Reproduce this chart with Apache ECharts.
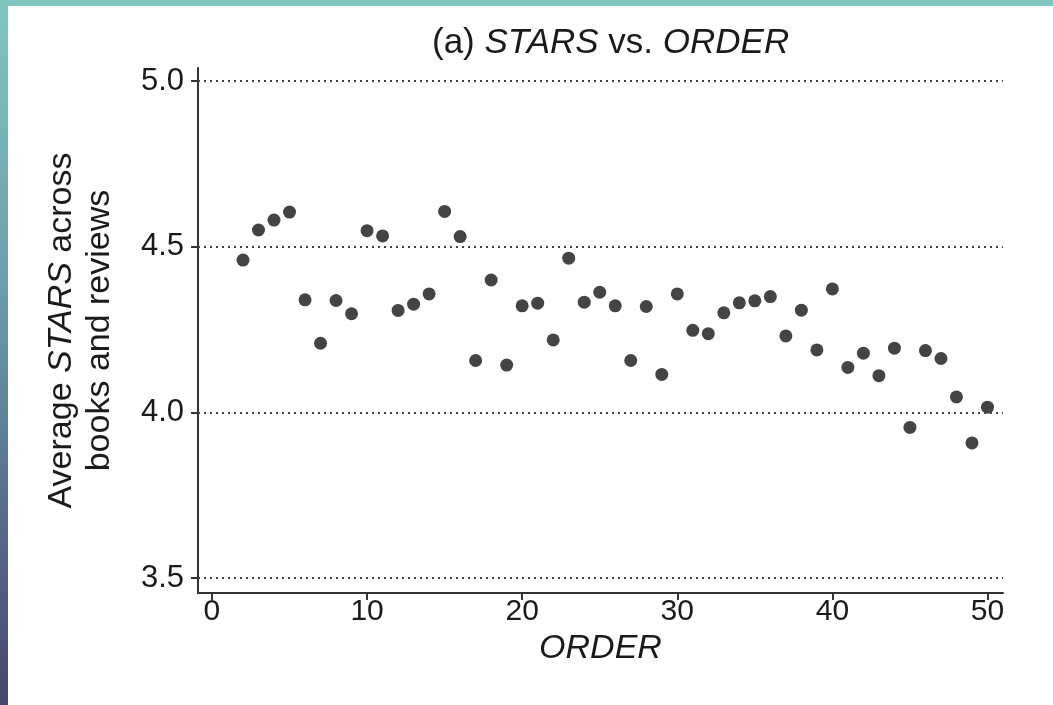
<!DOCTYPE html>
<html>
<head>
<meta charset="utf-8">
<script src="https://cdn.jsdelivr.net/npm/echarts@6/dist/echarts.min.js"></script>
<style>
  html, body { margin: 0; padding: 0; width: 1053px; height: 705px; overflow: hidden; background: #ffffff; }
  #topband { position: absolute; left: 0; top: 0; width: 1053px; height: 6px; background: #80c6c0; }
  #leftband { position: absolute; left: 0; top: 0; width: 8px; height: 705px; background: linear-gradient(to bottom, #80c6c0 0%, #6b9fab 40%, #56698a 75%, #474670 100%); }
  #chart { position: absolute; left: 0; top: 0; width: 1053px; height: 705px; }
</style>
</head>
<body>
<div id="chart"></div>
<div id="topband"></div>
<div id="leftband"></div>
<script>
// ORDER values (x) and average STARS (y)
const orders = [2, 3, 4, 5, 6, 7, 8, 9, 10, 11, 12, 13, 14, 15, 16, 17, 18, 19, 20, 21, 22, 23, 24, 25, 26,
                27, 28, 29, 30, 31, 32, 33, 34, 35, 36, 37, 38, 39, 40, 41, 42, 43, 44, 45, 46, 47, 48, 49, 50];
const stars = [4.46, 4.551, 4.581, 4.605, 4.34, 4.209, 4.338, 4.298, 4.549, 4.533, 4.308, 4.327, 4.358, 4.607, 4.531,
               4.157, 4.40, 4.143, 4.322, 4.330, 4.219, 4.466, 4.333, 4.363, 4.322, 4.157, 4.320, 4.115, 4.358, 4.248,
               4.238, 4.301, 4.331, 4.337, 4.350, 4.231, 4.309, 4.189, 4.373, 4.136, 4.179, 4.111, 4.194, 3.955, 4.187,
               4.163, 4.047, 3.908, 4.016];
const xTicks = [0, 10, 20, 30, 40, 50];
const yTicks = [3.5, 4.0, 4.5, 5.0];

const points = orders.map((o, i) => [o, stars[i]]);
const font = 'Liberation Sans, Arial, Helvetica, sans-serif';

const chart = echarts.init(document.getElementById('chart'), null, { renderer: 'canvas' });
chart.setOption({
  backgroundColor: '#ffffff',
  animation: false,
  title: {
    text: '{n|(a) }{i|STARS}{n| vs. }{i|ORDER}',
    left: 427,
    top: 21,
    textStyle: {
      fontWeight: 'normal',
      rich: {
        n: { fontFamily: font, fontSize: 35, fontWeight: 'normal', color: '#1a1a1a' },
        i: { fontFamily: font, fontSize: 35, fontWeight: 'normal', fontStyle: 'italic', color: '#1a1a1a' }
      }
    }
  },
  grid: { left: 198, right: 50, top: 68, bottom: 112, containLabel: false },
  xAxis: {
    type: 'value',
    min: -0.9,
    max: 51,
    name: 'ORDER',
    nameLocation: 'middle',
    nameGap: 39,
    nameTextStyle: { fontFamily: font, fontSize: 34, fontStyle: 'italic', color: '#1a1a1a' },
    axisLine: { show: true, onZero: false, lineStyle: { color: '#333', width: 2 } },
    axisTick: { show: true, customValues: xTicks, length: 7, lineStyle: { color: '#333', width: 2 } },
    axisLabel: { customValues: xTicks, fontFamily: font, fontSize: 30, color: '#1a1a1a', margin: 4 },
    splitLine: { show: false }
  },
  yAxis: {
    type: 'value',
    min: 3.455,
    max: 5.04,
    name: '{n|Average }{i|STARS}{n| across}\n{n|books and reviews}',
    nameLocation: 'middle',
    nameRotate: 90,
    nameGap: 79,
    nameTextStyle: {
      lineHeight: 38,
      rich: {
        n: { fontFamily: font, fontSize: 34, color: '#1a1a1a', lineHeight: 38 },
        i: { fontFamily: font, fontSize: 34, fontStyle: 'italic', color: '#1a1a1a', lineHeight: 38 }
      }
    },
    axisLine: { show: true, onZero: false, lineStyle: { color: '#333', width: 2 } },
    axisTick: { show: true, customValues: yTicks, length: 7, lineStyle: { color: '#333', width: 2 } },
    axisLabel: {
      customValues: yTicks,
      formatter: v => v.toFixed(1),
      fontFamily: font, fontSize: 31, color: '#1a1a1a', margin: 14
    },
    splitLine: { show: false }
  },
  series: [{
    type: 'scatter',
    data: points,
    symbol: 'circle',
    symbolSize: 13,
    itemStyle: { color: '#444444', opacity: 1 },
    markLine: {
      silent: true,
      symbol: ['none', 'none'],
      label: { show: false },
      lineStyle: { color: '#444', width: 2, type: [2, 4] },
      data: yTicks.map(v => ({ yAxis: v }))
    },
    z: 3
  }]
});
</script>
</body>
</html>
